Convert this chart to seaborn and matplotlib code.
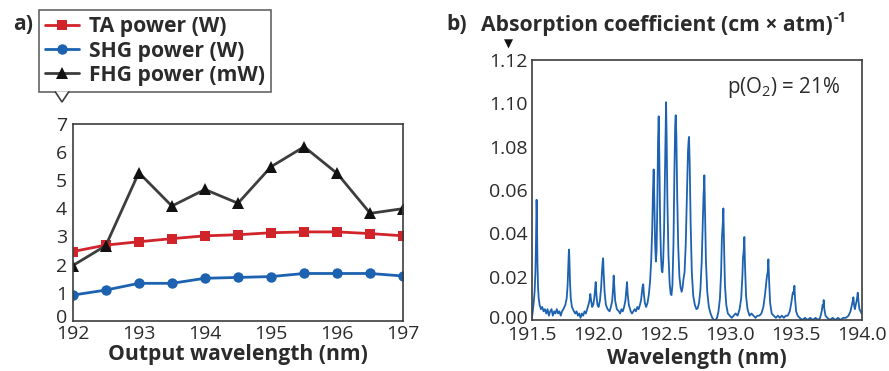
import matplotlib
matplotlib.use("Agg")
import matplotlib.pyplot as plt
import matplotlib.transforms as mtrans
import seaborn as sns
import pandas as pd
from matplotlib.lines import Line2D
from matplotlib.patches import Polygon

sns.set_style("white")
plt.rcParams['font.family'] = ['Open Sans', 'DejaVu Sans']
plt.rcParams['mathtext.fontset'] = 'custom'
plt.rcParams['mathtext.rm'] = 'Open Sans'
plt.rcParams['mathtext.bf'] = 'Open Sans:bold'

# ---- Panel a data ----
out_wl = [192, 192.5, 193, 193.5, 194, 194.5, 195, 195.5, 196, 196.5, 197]
ta_power = [2.46, 2.69, 2.81, 2.92, 3.02, 3.06, 3.13, 3.16, 3.16, 3.10, 3.02]
shg_power = [0.91, 1.09, 1.33, 1.33, 1.51, 1.54, 1.57, 1.68, 1.68, 1.68, 1.59]
fhg_power = [1.96, 2.67, 5.27, 4.08, 4.67, 4.18, 5.48, 6.19, 5.24, 3.82, 3.99]
a_xticks = [192, 193, 194, 195, 196, 197]
a_yticks = [0, 1, 2, 3, 4, 5, 6, 7]

# ---- Panel b data (spectrum) ----
spec_x = [191.501, 191.508, 191.515, 191.522, 191.528, 191.532, 191.535, 191.537, 191.539, 191.541,
          191.544, 191.548, 191.553, 191.56, 191.57,
          191.58, 191.59, 191.60, 191.61, 191.62, 191.63, 191.64, 191.65, 191.66, 191.67, 191.68,
          191.69, 191.70, 191.71, 191.72, 191.73, 191.74,
          191.755, 191.765, 191.772, 191.778, 191.781, 191.783, 191.786, 191.790, 191.796, 191.805,
          191.82, 191.83, 191.84, 191.85, 191.86, 191.87,
          191.88, 191.89, 191.90, 191.91, 191.92, 191.93, 191.938, 191.944, 191.950, 191.958,
          191.966, 191.974, 191.980, 191.985, 191.990, 191.998, 192.007, 192.017, 192.026, 192.033,
          192.038, 192.041, 192.045, 192.052, 192.062, 192.075, 192.09,
          192.100, 192.110, 192.117, 192.121, 192.125, 192.132, 192.145, 192.16, 192.17, 192.18,
          192.19, 192.20, 192.210, 192.217, 192.222, 192.227, 192.236, 192.25, 192.26, 192.27,
          192.28, 192.29, 192.30, 192.31, 192.32, 192.328, 192.335, 192.340, 192.345, 192.350,
          192.357, 192.367, 192.378, 192.388, 192.397, 192.405, 192.413, 192.419, 192.424, 192.429,
          192.435, 192.441, 192.446, 192.452, 192.457, 192.462, 192.467, 192.473, 192.479, 192.485,
          192.490, 192.496, 192.503, 192.510, 192.515, 192.518, 192.522, 192.528, 192.536, 192.545,
          192.553, 192.559, 192.566, 192.574, 192.581, 192.587, 192.591, 192.596, 192.602, 192.610,
          192.619, 192.628, 192.636, 192.643, 192.650, 192.658, 192.667, 192.676, 192.684, 192.689,
          192.692, 192.697, 192.704, 192.713, 192.724, 192.736, 192.748, 192.758, 192.768, 192.778,
          192.788, 192.796, 192.802, 192.805, 192.808, 192.813, 192.820, 192.830, 192.842, 192.855,
          192.868, 192.880, 192.892, 192.904, 192.915, 192.926, 192.935, 192.941, 192.945, 192.949,
          192.952, 192.957, 192.964, 192.974, 192.986, 193.00, 193.015, 193.03, 193.045, 193.06,
          193.075, 193.087, 193.096, 193.101, 193.105, 193.108, 193.111, 193.116, 193.124, 193.135,
          193.15, 193.165, 193.18, 193.195, 193.21, 193.225, 193.24, 193.255, 193.268, 193.278,
          193.284, 193.288, 193.293, 193.298, 193.306, 193.318, 193.333, 193.35, 193.365, 193.38,
          193.395, 193.41, 193.425, 193.44, 193.455, 193.467, 193.476, 193.482, 193.486, 193.490,
          193.495, 193.503, 193.515, 193.53, 193.55, 193.57, 193.59, 193.61, 193.63, 193.65,
          193.67, 193.685, 193.697, 193.704, 193.709, 193.712, 193.717, 193.726, 193.74, 193.76,
          193.78, 193.80, 193.82, 193.84, 193.86, 193.88, 193.90, 193.915, 193.926, 193.933,
          193.937, 193.942, 193.948, 193.955, 193.962, 193.967, 193.970, 193.975, 193.983, 193.992,
          193.999]
spec_y = [0.001, 0.004, 0.008, 0.013, 0.022, 0.034, 0.048, 0.0555, 0.050, 0.038,
          0.025, 0.015, 0.010, 0.007, 0.005,
          0.006, 0.004, 0.005, 0.003, 0.005, 0.002, 0.004, 0.005, 0.002, 0.004, 0.003,
          0.005, 0.003, 0.004, 0.002, 0.004, 0.005,
          0.007, 0.010, 0.016, 0.026, 0.031, 0.0325, 0.027, 0.018, 0.010, 0.006,
          0.004, 0.003, 0.004, 0.002, 0.003, 0.001,
          0.003, 0.002, 0.004, 0.003, 0.005, 0.007, 0.009, 0.012, 0.009, 0.006,
          0.007, 0.010, 0.014, 0.0175, 0.012, 0.007, 0.006, 0.009, 0.015, 0.023,
          0.027, 0.0285, 0.022, 0.013, 0.007, 0.005, 0.004,
          0.006, 0.009, 0.015, 0.0205, 0.016, 0.009, 0.005, 0.004, 0.003, 0.005,
          0.004, 0.006, 0.009, 0.014, 0.0175, 0.012, 0.007, 0.004, 0.003, 0.004,
          0.005, 0.004, 0.006, 0.005, 0.007, 0.009, 0.013, 0.0155, 0.0165, 0.012,
          0.008, 0.006, 0.008, 0.012, 0.018, 0.027, 0.042, 0.060, 0.0695, 0.055,
          0.035, 0.027, 0.032, 0.055, 0.082, 0.094, 0.075, 0.045, 0.030, 0.023,
          0.022, 0.027, 0.042, 0.070, 0.092, 0.1005, 0.085, 0.055, 0.030, 0.017,
          0.012, 0.0115, 0.016, 0.035, 0.068, 0.090, 0.0945, 0.085, 0.058, 0.034,
          0.020, 0.015, 0.013, 0.015, 0.019, 0.022, 0.035, 0.058, 0.078, 0.083,
          0.0845, 0.072, 0.045, 0.022, 0.011, 0.007, 0.005, 0.0055, 0.008, 0.014,
          0.027, 0.045, 0.058, 0.061, 0.0668, 0.050, 0.027, 0.013, 0.006, 0.003,
          0.001, 0.000, 0.000, 0.001, 0.004, 0.010, 0.022, 0.038, 0.042, 0.046,
          0.0515, 0.035, 0.016, 0.007, 0.003, 0.002, 0.001, 0.002, 0.003, 0.002,
          0.005, 0.010, 0.020, 0.029, 0.031, 0.034, 0.0383, 0.025, 0.011, 0.005,
          0.002, 0.003, 0.002, 0.001, 0.002, 0.002, 0.003, 0.006, 0.012, 0.018,
          0.021, 0.022, 0.028, 0.019, 0.008, 0.003, 0.002, 0.001, 0.002, 0.001,
          0.002, 0.001, 0.002, 0.002, 0.004, 0.008, 0.012, 0.013, 0.012, 0.0158,
          0.010, 0.004, 0.002, 0.001, 0.000, 0.001, 0.000, 0.001, 0.000, 0.001,
          0.000, 0.001, 0.004, 0.007, 0.006, 0.0092, 0.005, 0.002, 0.001, 0.000,
          0.001, 0.000, 0.001, 0.000, 0.001, 0.001, 0.002, 0.004, 0.007, 0.009,
          0.0105, 0.007, 0.005, 0.007, 0.009, 0.011, 0.0126, 0.009, 0.005, 0.004,
          0.003]
b_xticks = [191.5, 192.0, 192.5, 193.0, 193.5, 194.0]
b_yticks = [0.00, 0.02, 0.04, 0.06, 0.08, 0.10, 0.12]
b_yticklabels = ["0.00", "0.02", "0.04", "0.06", "1.08", "1.10", "1.12"]

RED = "#d1232a"
BLUE = "#1d62b0"
GRAY = "#3d3d3d"
TXT = "#2b2b2b"
BOLD_SIZE = 15.2
TICK_SIZE = 14

fig = plt.figure(figsize=(8.89, 3.71), dpi=100)
W, H = 889, 371

def ax_rect(x0, x1, ytop, ybot):
    return [x0 / W, 1 - ybot / H, (x1 - x0) / W, (ybot - ytop) / H]

axa = fig.add_axes(ax_rect(72.7, 403.3, 124, 320.7))
axb = fig.add_axes(ax_rect(531.7, 861.7, 60, 320))

df_a = pd.DataFrame({"wl": out_wl, "TA": ta_power, "SHG": shg_power, "FHG": fhg_power})
sns.lineplot(data=df_a, x="wl", y="TA", ax=axa, color=RED, marker="s", markersize=7,
             markeredgewidth=0, linewidth=2, legend=False)
sns.lineplot(data=df_a, x="wl", y="SHG", ax=axa, color=BLUE, marker="o", markersize=7.5,
             markeredgewidth=0, linewidth=2, legend=False)
sns.lineplot(data=df_a, x="wl", y="FHG", ax=axa, color=GRAY, marker="^", markersize=8.5,
             markerfacecolor="#111111", markeredgewidth=0, linewidth=2, legend=False)

axa.set_xlim(192, 197)
axa.set_ylim(0, 7)
axa.set_xticks(a_xticks)
axa.set_yticks(a_yticks)
axa.set_xlabel("Output wavelength (nm)", fontsize=BOLD_SIZE, fontweight="bold", color=TXT,
               labelpad=1)
axa.set_ylabel("")
axa.tick_params(axis="x", direction="in", length=4, width=1, color=GRAY,
                labelsize=TICK_SIZE, labelcolor=TXT, pad=3)
axa.tick_params(axis="y", length=0, labelsize=TICK_SIZE, labelcolor=TXT, pad=4)

df_b = pd.DataFrame({"x": spec_x, "y": spec_y})
sns.lineplot(data=df_b, x="x", y="y", ax=axb, color=BLUE, linewidth=1.3, sort=False,
             estimator=None)
axb.set_xlim(191.5, 194.0)
axb.set_ylim(0, 0.12)
axb.set_xticks(b_xticks)
axb.set_xticklabels([f"{v:.1f}" for v in b_xticks])
axb.set_yticks(b_yticks)
axb.set_yticklabels(b_yticklabels)
axb.set_xlabel("Wavelength (nm)", fontsize=BOLD_SIZE, fontweight="bold", color=TXT, labelpad=3)
axb.set_ylabel("")
axb.tick_params(axis="both", direction="in", length=5, width=1, color=GRAY,
                labelsize=TICK_SIZE, labelcolor=TXT)
axb.tick_params(axis="x", pad=4)
axb.tick_params(axis="y", pad=3)
axb.text(0.934, 0.895, "p(O$_2$) = 21%", transform=axb.transAxes, ha="right", va="center",
         fontsize=14.8, color=TXT)

# nudge the bottom-most y tick labels up a little, as in the reference
for ax, dy in ((axa, 5.0), (axb, 3.5)):
    shift_up = mtrans.ScaledTranslation(0, dy / 100, fig.dpi_scale_trans)
    lab0 = ax.get_yticklabels()[0]
    lab0.set_transform(lab0.get_transform() + shift_up)

for ax in (axa, axb):
    for s in ax.spines.values():
        s.set_visible(True)
        s.set_color(GRAY)
        s.set_linewidth(1.2)

# legend for panel a
handles = [Line2D([], [], color=RED, marker="s", markersize=7, markeredgewidth=0, linewidth=2),
           Line2D([], [], color=BLUE, marker="o", markersize=7.5, markeredgewidth=0, linewidth=2),
           Line2D([], [], color=GRAY, marker="^", markersize=8.5, markerfacecolor="#111111",
                  markeredgewidth=0, linewidth=2)]
labels = ["TA power (W)", "SHG power (W)", "FHG power (mW)"]
leg = fig.legend(handles, labels, loc="upper left", bbox_to_anchor=(39 / W, 1 - 10 / H),
                 frameon=True, fancybox=False, prop={"weight": "bold", "size": BOLD_SIZE},
                 handlelength=1.6, handletextpad=0.45, labelspacing=0.15, borderpad=0.3,
                 borderaxespad=0)
leg.get_frame().set_edgecolor(GRAY)
leg.get_frame().set_linewidth(1.2)
for t in leg.get_texts():
    t.set_color(TXT)

fig.text(13 / W, 1 - 25 / H, "a)", fontsize=BOLD_SIZE, fontweight="bold", color=TXT, va="center")
fig.text(446 / W, 1 - 25 / H, "b)", fontsize=BOLD_SIZE, fontweight="bold", color=TXT, va="center")
title = fig.text(481 / W, 1 - 25 / H, "Absorption coefficient (cm × atm)",
                 fontsize=BOLD_SIZE, fontweight="bold", color=TXT, va="center")
fig.text(508 / W, 1 - 44 / H, "▼", fontsize=8.5, color="#111111", ha="center", va="center",
         family=["DejaVu Sans"])

fig.canvas.draw()
r = fig.canvas.get_renderer()
tb = title.get_window_extent(r)
fig.text((tb.x1 + 1) / W, (tb.y1 - 3) / H, "-1", fontsize=10.5, fontweight="bold",
         color=TXT, va="center")

lb = leg.get_window_extent(r)
ybot = lb.y0 / H
pts = [(55 / W, ybot + 0.6 / H), (62 / W, ybot - 10 / H), (69 / W, ybot + 0.6 / H)]
poly = Polygon(pts, closed=False, facecolor="white", edgecolor=GRAY, linewidth=1.2,
               transform=fig.transFigure, zorder=10)
fig.add_artist(poly)

fig.savefig("out.png", dpi=100)
